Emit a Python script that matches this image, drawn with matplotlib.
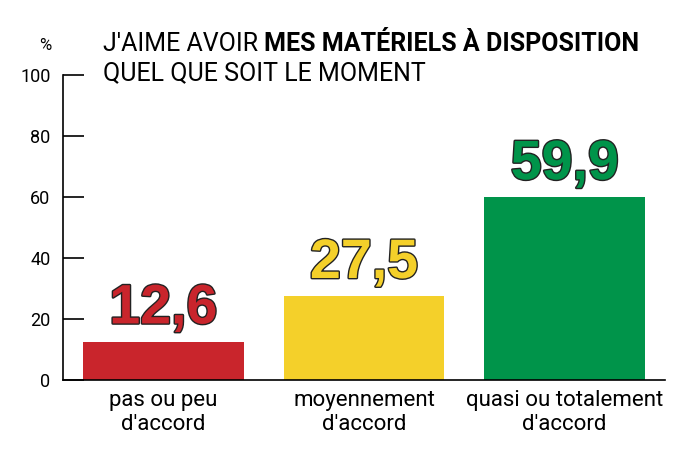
import matplotlib.pyplot as plt
import matplotlib.patheffects as pe

categories = ["pas ou peu\nd'accord", "moyennement\nd'accord", "quasi ou totalement\nd'accord"]
values = [12.6, 27.5, 59.9]
labels = ["12,6", "27,5", "59,9"]
colors = ["#C9252C", "#F4D02A", "#00944A"]
yticks = [0, 20, 40, 60, 80, 100]

plt.rcParams['font.family'] = ['Roboto', 'DejaVu Sans']

fig = plt.figure(figsize=(7, 4.55), dpi=100)
ax = fig.add_axes([0.09, 0.165, 0.86, 0.67])

x = range(len(values))
ax.bar(x, values, width=0.8, color=colors)

for i, v in enumerate(values):
    ax.text(i, v + 2, labels[i], ha='center', va='bottom', fontsize=40,
            fontweight='bold', color=colors[i],
            family=['Liberation Sans', 'DejaVu Sans'],
            path_effects=[pe.withStroke(linewidth=2, foreground='#222222')])

ax.set_xlim(-0.5, 2.5)
ax.set_ylim(0, 100)
ax.set_yticks(yticks)
ax.set_yticklabels([str(t) for t in yticks], fontsize=13)
ax.tick_params(axis='y', direction='in', length=15, width=1.2, pad=9)
ax.set_xticks(list(x))
ax.set_xticklabels(categories, fontsize=16, linespacing=1.2)
ax.tick_params(axis='x', length=0, pad=7)
for s in ['top', 'right']:
    ax.spines[s].set_visible(False)
ax.spines['left'].set_linewidth(1.2)
ax.spines['bottom'].set_linewidth(1.2)

fig.text(0.064, 0.9, "%", ha='center', va='center', fontsize=12)

t1 = fig.text(0.147, 0.887, "J'AIME AVOIR ", fontsize=18, va='baseline')
ax.annotate("MES MATÉRIELS À DISPOSITION", xy=(1, 0), xycoords=t1,
            va='bottom', ha='left', fontsize=18, fontweight='bold',
            annotation_clip=False)
fig.text(0.147, 0.823, "QUEL QUE SOIT LE MOMENT", fontsize=18, va='baseline')

fig.savefig("out.png", dpi=100)
